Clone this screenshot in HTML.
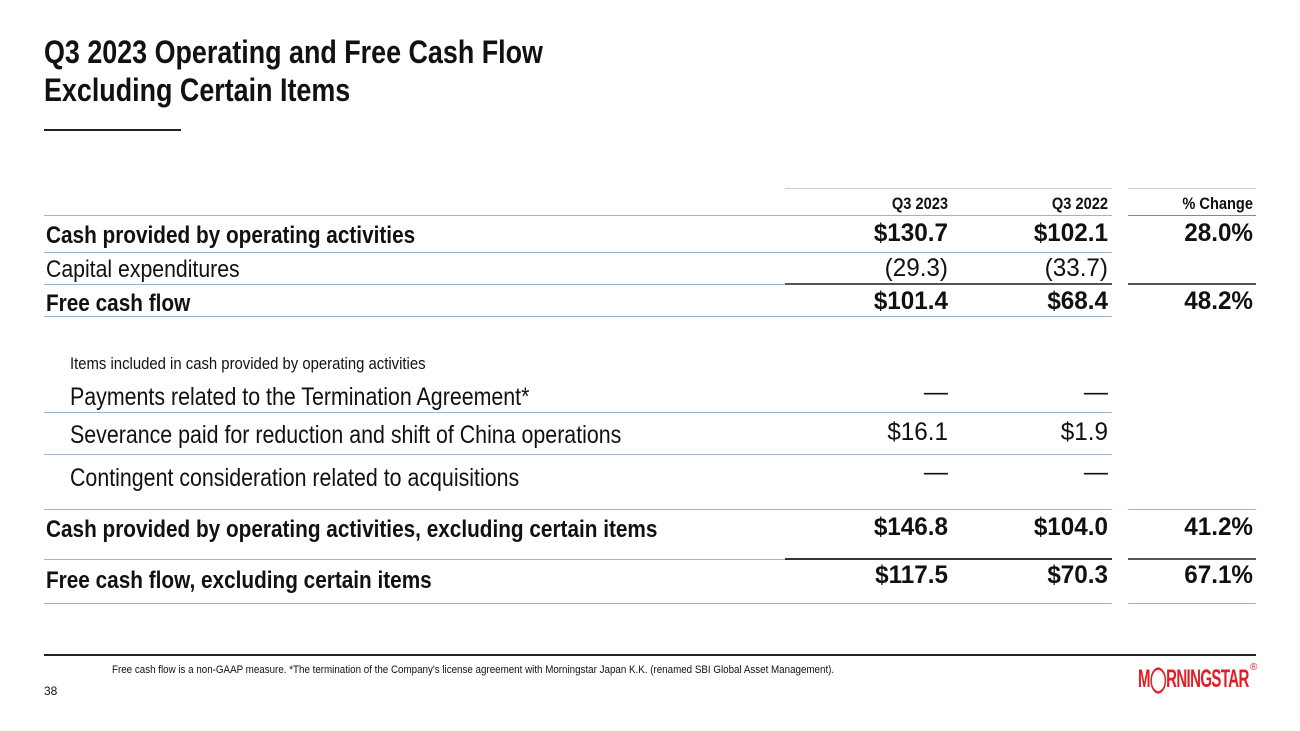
<!DOCTYPE html>
<html><head><meta charset="utf-8"><style>
body{margin:0;width:1300px;height:731px;background:#fff;position:relative;overflow:hidden;font-family:"Liberation Sans",sans-serif;color:#111}
.a{position:absolute;white-space:nowrap;transform-origin:left top}
.h{position:absolute;height:1px;background:#9fb4c8}
.d{position:absolute;height:2px;background:#555}
.b{font-weight:bold;font-size:24px;transform:scaleX(0.865)}
.t{font-size:24px;transform:scaleX(0.885)}
.n{text-align:right;transform-origin:right top;font-size:25px;transform:scaleX(0.97)}
.nb{font-weight:bold}
.hd{text-align:right;transform-origin:right top;font-size:17px;font-weight:bold;transform:scaleX(0.86)}
</style></head><body>
<div class="a" style="left:44px;top:33px;font-size:32px;font-weight:bold;line-height:38px;transform:scaleX(0.84)">Q3 2023 Operating and Free Cash Flow<br>Excluding Certain Items</div>
<div class="a" style="left:44px;top:129px;width:137px;height:2px;background:#222"></div>

<div>
<div class="h" style="left:785px;top:188px;width:327px;background:#ccc"></div>
<div class="h" style="left:1128px;top:188px;width:128px;background:#ccc"></div>
<div class="a hd" style="left:848px;width:100px;top:194px">Q3 2023</div>
<div class="a hd" style="left:1008px;width:100px;top:194px">Q3 2022</div>
<div class="a hd" style="left:1133px;width:120px;top:194px">% Change</div>
<div class="h" style="left:44px;top:215px;width:1068px"></div>
<div class="h" style="left:1128px;top:215px;width:128px;background:#888"></div>

<div class="a b" style="left:46px;top:222px">Cash provided by operating activities</div>
<div class="a n nb" style="left:808px;width:140px;top:219px">$130.7</div>
<div class="a n nb" style="left:968px;width:140px;top:219px">$102.1</div>
<div class="a n nb" style="left:1113px;width:140px;top:219px">28.0%</div>
<div class="h" style="left:44px;top:252px;width:1068px"></div>

<div class="a t" style="left:46px;top:256px">Capital expenditures</div>
<div class="a n" style="left:808px;width:140px;top:254px">(29.3)</div>
<div class="a n" style="left:968px;width:140px;top:254px">(33.7)</div>
<div class="h" style="left:44px;top:284px;width:741px"></div>
<div class="d" style="left:785px;top:283px;width:327px"></div>
<div class="d" style="left:1128px;top:283px;width:128px"></div>

<div class="a b" style="left:46px;top:290px">Free cash flow</div>
<div class="a n nb" style="left:808px;width:140px;top:287px">$101.4</div>
<div class="a n nb" style="left:968px;width:140px;top:287px">$68.4</div>
<div class="a n nb" style="left:1113px;width:140px;top:287px">48.2%</div>
<div class="h" style="left:44px;top:316px;width:1068px"></div>

<div class="a" style="left:70px;top:354px;font-size:17px;transform:scaleX(0.875)">Items included in cash provided by operating activities</div>

<div class="a t" style="left:70px;top:383px;font-size:25px;transform:scaleX(0.855)">Payments related to the Termination Agreement*</div>
<div class="a n" style="left:808px;width:140px;top:378px">—</div>
<div class="a n" style="left:968px;width:140px;top:378px">—</div>
<div class="h" style="left:44px;top:412px;width:1068px"></div>

<div class="a t" style="left:70px;top:421px;font-size:25px;transform:scaleX(0.855)">Severance paid for reduction and shift of China operations</div>
<div class="a n" style="left:808px;width:140px;top:418px">$16.1</div>
<div class="a n" style="left:968px;width:140px;top:418px">$1.9</div>
<div class="h" style="left:44px;top:454px;width:1068px"></div>

<div class="a t" style="left:70px;top:464px;font-size:25px;transform:scaleX(0.855)">Contingent consideration related to acquisitions</div>
<div class="a n" style="left:808px;width:140px;top:458px">—</div>
<div class="a n" style="left:968px;width:140px;top:458px">—</div>
<div class="h" style="left:44px;top:509px;width:1068px"></div>
<div class="h" style="left:1128px;top:509px;width:128px"></div>

<div class="a b" style="left:46px;top:516px">Cash provided by operating activities, excluding certain items</div>
<div class="a n nb" style="left:808px;width:140px;top:513px">$146.8</div>
<div class="a n nb" style="left:968px;width:140px;top:513px">$104.0</div>
<div class="a n nb" style="left:1113px;width:140px;top:513px">41.2%</div>
<div class="h" style="left:44px;top:559px;width:741px"></div>
<div class="d" style="left:785px;top:558px;width:327px;background:#333"></div>
<div class="d" style="left:1128px;top:558px;width:128px"></div>

<div class="a b" style="left:46px;top:567px">Free cash flow, excluding certain items</div>
<div class="a n nb" style="left:808px;width:140px;top:561px">$117.5</div>
<div class="a n nb" style="left:968px;width:140px;top:561px">$70.3</div>
<div class="a n nb" style="left:1113px;width:140px;top:561px">67.1%</div>
<div class="h" style="left:44px;top:603px;width:1068px"></div>
<div class="h" style="left:1128px;top:603px;width:128px"></div>
</div>

<div class="a" style="left:44px;top:654px;width:1212px;height:2px;background:#222"></div>
<div class="a" style="left:112px;top:664px;font-size:11px;transform:scaleX(0.89)">Free cash flow is a non-GAAP measure. *The termination of the Company's license agreement with Morningstar Japan K.K. (renamed SBI Global Asset Management).</div>
<div class="a" style="left:44px;top:684px;font-size:12px">38</div>
<div class="a" style="left:1138px;top:664px;font-size:25px;font-weight:bold;color:#e01e24;letter-spacing:-1px;transform:scaleX(0.6)">M◯RNINGSTAR</div>
<div class="a" style="left:1250px;top:662px;font-size:10px;color:#e01e24">®</div>
</body></html>
